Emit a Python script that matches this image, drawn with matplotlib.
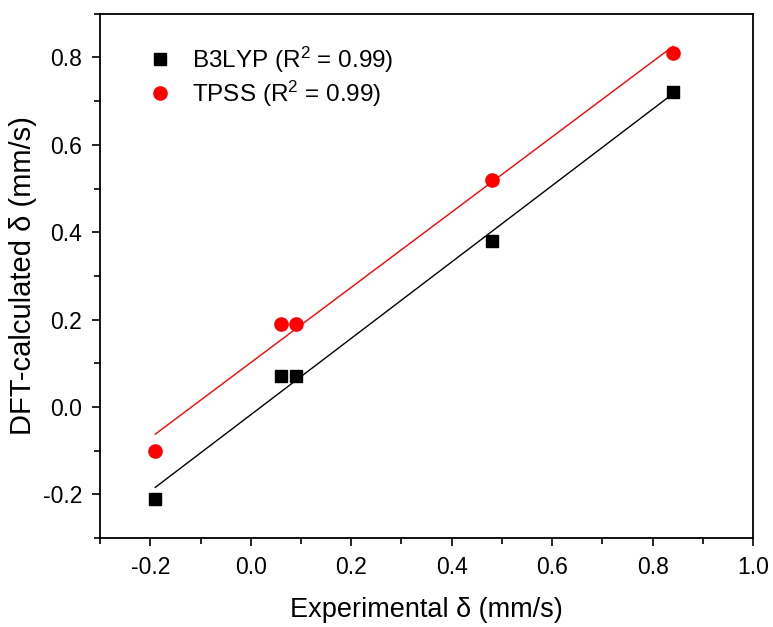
import matplotlib
matplotlib.use('Agg')
import matplotlib.pyplot as plt
import numpy as np
from matplotlib.ticker import MultipleLocator, FormatStrFormatter

plt.rcParams['font.family'] = ['Liberation Sans', 'DejaVu Sans']
plt.rcParams['mathtext.fontset'] = 'custom'
plt.rcParams['mathtext.rm'] = 'Liberation Sans'
plt.rcParams['mathtext.it'] = 'Liberation Sans'

# Isomer shifts: experiment vs. DFT (mm/s)
exp_delta = [-0.19, 0.06, 0.09, 0.48, 0.84]
b3lyp_delta = [-0.21, 0.07, 0.07, 0.38, 0.72]
tpss_delta = [-0.10, 0.19, 0.19, 0.52, 0.81]

fig = plt.figure(figsize=(7.73, 6.27), dpi=100)
ax = fig.add_axes([0.1294, 0.142, 0.845, 0.836])

x = np.array(exp_delta)
xfit = np.array([x.min(), x.max()])

# linear fits
for y, color in [(b3lyp_delta, 'black'), (tpss_delta, 'red')]:
    k, b = np.polyfit(x, y, 1)
    ax.plot(xfit, k * xfit + b, color=color, lw=1.0, zorder=2)

ax.plot(x, b3lyp_delta, 's', color='black', ms=8.5, ls='none',
        label=r'B3LYP (R$^2$ = 0.99)', zorder=3)
ax.plot(x, tpss_delta, 'o', color='red', ms=9.5, ls='none',
        label=r'TPSS (R$^2$ = 0.99)', zorder=3)

ax.set_xlim(-0.3, 1.0)
ax.set_ylim(-0.3, 0.9)
ax.xaxis.set_major_locator(MultipleLocator(0.2))
ax.xaxis.set_minor_locator(MultipleLocator(0.1))
ax.yaxis.set_major_locator(MultipleLocator(0.2))
ax.yaxis.set_minor_locator(MultipleLocator(0.1))
ax.xaxis.set_major_formatter(FormatStrFormatter('%.1f'))
ax.yaxis.set_major_formatter(FormatStrFormatter('%.1f'))
ax.tick_params(which='both', direction='out', top=False, right=False,
               width=1.2, labelsize=16.5)
ax.tick_params(which='major', length=6, pad=7)
ax.tick_params(which='minor', length=4)
for s in ax.spines.values():
    s.set_linewidth(1.3)

ax.set_xlabel('Experimental δ (mm/s)', fontsize=19.5, labelpad=13)
ax.set_ylabel('DFT-calculated δ (mm/s)', fontsize=21, labelpad=4)

ax.legend(loc='upper left', bbox_to_anchor=(0.04, 0.983), frameon=False,
          fontsize=17.5, handletextpad=0.8, labelspacing=0.15, handlelength=1.0)

fig.savefig('out.png', dpi=100)
